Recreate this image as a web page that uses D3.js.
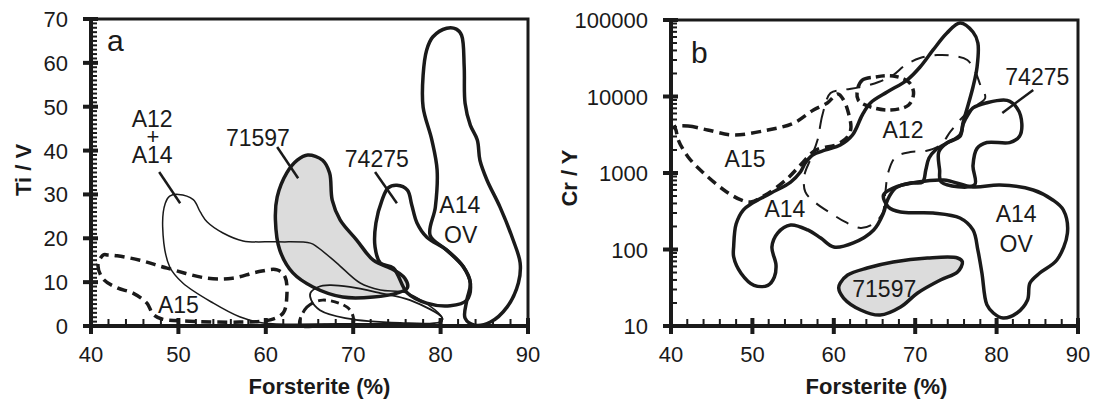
<!DOCTYPE html>
<html>
<head>
<meta charset="utf-8">
<script src="https://cdn.jsdelivr.net/npm/d3@7"></script>
<style>
  body { margin: 0; background: #fff; }
  text { font-family: "Liberation Sans", Arial, sans-serif; fill: #1a1a1a; }
</style>
</head>
<body>
<script>
// ---- données (Forsterite %, valeur) ----
const xTicks = [40, 50, 60, 70, 80, 90];
const yTicksA = [0, 10, 20, 30, 40, 50, 60, 70];
const yTicksB = [10, 100, 1000, 10000, 100000];

// panneau a : Ti / V
const a71597 = [[64.8,39.0],[66.5,37.8],[67.3,34.9],[67.6,28.7],[68.5,24.2],[70.4,19.6],[72.3,15.0],[74.6,12.8],[75.9,10.9],[76.2,8.7],[75.0,7.5],[72.3,6.6],[68.8,6.6],[65.4,8.9],[63.1,12.1],[61.6,17.3],[61.1,24.2],[61.3,29.4],[62.4,34.9],[63.6,37.8]];
const aA12A14 = [[50.0,30.0],[51.7,28.8],[52.5,26.0],[53.3,23.7],[55.1,21.2],[57.4,19.4],[61.3,19.2],[65.1,18.9],[65.9,18.0],[68.1,14.4],[70.8,9.8],[73.1,8.2],[76.2,7.5],[80.2,1.8],[79.9,0.5],[75.4,0.5],[68.5,0.5],[59.7,0.7],[57.0,2.1],[54.0,5.2],[50.5,9.8],[49.0,13.5],[48.2,22.6],[48.5,28.0],[49.0,29.6]];
const aOval = [[65.1,7.5],[66.0,8.9],[67.3,9.3],[69.6,8.9],[73.1,7.5],[76.5,5.9],[80.2,1.8],[79.9,0.9],[75.4,0.7],[69.1,1.8],[66.2,3.6],[65.2,5.9]];
const aA15 = [[41.4,16.2],[40.8,13.9],[41.4,10.7],[43.0,8.7],[44.8,7.5],[46.4,5.2],[47.1,2.7],[48.1,1.6],[51.3,1.1],[57.0,0.9],[60.5,1.4],[62.0,3.0],[62.4,6.6],[62.2,11.2],[61.3,12.8],[59.0,12.3],[56.2,10.9],[53.3,10.9],[48.7,13.2],[45.6,15.0],[43.0,16.0],[41.9,16.2]];
const aSmall = [[63.9,0.2],[64.7,4.3],[66.5,5.9],[69.3,4.3],[70.0,2.1],[69.9,0.2],[67.0,0.2]];
const a74275 = [[75.0,32.1],[76.2,31.0],[76.7,27.6],[77.3,23.5],[78.4,20.3],[80.7,17.3],[82.6,13.5],[83.4,9.8],[83.0,5.9],[81.1,4.6],[78.4,5.2],[76.2,7.5],[74.6,13.2],[73.1,14.4],[72.5,18.0],[72.6,23.5],[73.3,28.7],[74.0,31.5]];
const aA14OV = [[80.7,67.9],[81.8,67.7],[82.4,66.3],[82.7,59.1],[82.8,50.8],[83.4,45.8],[84.2,42.4],[84.5,37.8],[85.3,33.3],[86.8,27.1],[88.3,19.6],[89.1,14.4],[88.9,9.8],[87.6,4.3],[85.7,0.9],[83.9,0.2],[82.8,1.8],[83.0,5.9],[83.4,9.8],[82.6,13.5],[80.7,17.3],[78.8,20.7],[79.4,27.1],[79.6,35.6],[79.0,42.4],[78.0,49.9],[78.0,57.2],[78.4,62.9],[79.1,65.9]];

// panneau b : Cr / Y
const b71597 = [[60.8,36.5],[61.7,46.4],[64.1,57.3],[67.3,68.7],[71.5,77.4],[75.2,77.4],[75.8,68.7],[75.2,50.8],[73.1,39.9],[70.3,27.0],[68.2,17.7],[65.7,13.9],[63.3,16.2],[61.2,23.2],[60.6,31.4]];
const bA14OV = [[66.1,515],[66.7,360],[68.2,309],[72.2,300],[75.5,258],[77.1,180],[77.7,98],[78.2,49],[78.8,19],[79.6,14.8],[80.8,12.7],[82.5,14.8],[83.8,21.9],[84.1,36.5],[85.3,49.3],[87.4,73],[88.7,164],[88.2,328],[86.9,444],[84.5,600],[80.4,697],[77.1,656],[73.5,809],[70.3,762],[67.3,637]];
const bA14 = [[50.0,405],[48.9,330],[48.0,215],[47.7,110],[47.7,80],[48.6,49],[50.2,34],[51.9,34],[52.7,43.7],[52.9,62.7],[52.4,108],[53.1,164],[54.7,209],[56.8,180],[58.4,141],[60.0,108],[62.4,122],[64.9,180],[66.1,300],[66.6,444],[67.6,637],[69.4,740],[70.9,762],[71.3,1094],[71.7,1570],[72.5,2000],[73.9,2470],[75.5,3140],[75.9,4650],[76.5,7750],[77.1,13300],[77.6,24300],[77.7,50000],[77.1,69700],[75.5,91400],[73.9,67600],[72.2,40600],[70.6,24300],[69.0,16400],[66.6,11500],[64.5,8230],[63.5,5730],[62.3,3140],[60.8,2320],[59.0,2000],[57.4,1720],[56.5,1350],[55.9,1030],[54.7,762],[52.3,548]];
const b74275 = [[73.2,762],[73.0,1100],[72.9,1880],[73.9,2470],[75.5,3000],[75.9,4400],[76.5,5800],[77.1,7100],[78.8,8300],[81.3,8900],[82.5,7100],[83.1,4400],[82.8,3000],[81.6,2500],[78.8,2500],[77.6,2100],[77.1,1250],[77.3,700]];
const bA15 = [[40.4,3990],[42.1,4110],[44.5,3650],[47.7,3140],[51.9,3650],[55.1,4510],[57.5,6670],[59.2,8230],[60.5,10800],[61.2,9000],[61.8,6080],[62.1,3870],[61.7,2960],[60.2,2320],[57.8,2000],[55.9,1270],[54.1,809],[51.6,516],[49.8,418],[48.6,444],[46.5,600],[44.0,1000],[42.1,1620],[40.9,2700],[40.6,3650]];
const bA12 = [[59.6,11100],[58.6,5730],[58.0,2700],[57.2,1570],[56.4,942],[56.5,565],[57.8,405],[59.6,300],[61.4,229],[63.3,191],[64.8,215],[66.0,300],[66.3,515],[66.7,1030],[67.6,1620],[69.4,1880],[71.3,1940],[73.1,2320],[74.3,3440],[75.5,4930],[77.0,7080],[78.6,9550],[78.0,14100],[77.4,20900],[76.4,30000],[74.9,33800],[72.7,34800],[70.6,31800],[68.8,25800],[67.3,19100],[65.5,15500],[63.3,13300],[61.2,12200]];
const bSmall = [[62.9,12200],[63.5,16400],[65.1,18000],[67.3,18500],[69.2,15500],[69.8,11100],[69.2,7750],[67.0,6670],[64.5,7300],[63.0,9000]];

// étiquettes [texte, Fo, valeur, taille]
const labelsA = [["A12",47.0,45.4,23],["+",47.1,41.4,22],["A14",47.0,37.2,23],["71597",59.1,41.0,23],["74275",72.7,36.3,23],["A14",82.2,25.8,23],["OV",82.3,18.9,23],["A15",50.0,3.0,23]];
const leadersA = [[[47.8,35.1],[50.2,28.0]],[[61.3,40.8],[63.7,33.7]],[[72.5,35.1],[75.0,28.0]]];
const labelsB = [["A15",49.1,1200,23],["A14",54.0,266,23],["A12",68.5,2870,23],["74275",85.0,14100,23],["A14",82.4,229,23],["OV",82.4,93,23],["71597",66.2,23.9,23]];
const leadersB = [[[84.5,12200],[80.7,6100]]];

// ---- mise en page ----
const ink = '#1a1a1a';
const svg = d3.select('body').append('svg').attr('width', 1097).attr('height', 403);

const xa = d3.scaleLinear().domain([40, 90]).range([91, 528]);
const ya = d3.scaleLinear().domain([0, 70]).range([326, 19]);
const xb = d3.scaleLinear().domain([40, 90]).range([671, 1078]);
const yb = d3.scaleLog().domain([10, 100000]).range([326, 20]);

function blob(g, pts, x, y, opt) {
  const line = d3.line().x(d => x(d[0])).y(d => y(d[1])).curve(d3.curveCatmullRomClosed.alpha(0.5));
  g.append('path')
    .attr('d', line(pts))
    .attr('fill', opt.fill || 'none')
    .attr('stroke', ink)
    .attr('stroke-width', opt.w)
    .attr('stroke-dasharray', opt.dash || null)
    .attr('stroke-linejoin', 'round');
}

function labels(g, list, x, y) {
  g.selectAll(null).data(list).enter().append('text')
    .attr('x', d => x(d[1])).attr('y', d => y(d[2]))
    .attr('text-anchor', 'middle').attr('font-size', d => d[3])
    .text(d => d[0]);
}

function leaders(g, list, x, y) {
  g.selectAll(null).data(list).enter().append('line')
    .attr('x1', d => x(d[0][0])).attr('y1', d => y(d[0][1]))
    .attr('x2', d => x(d[1][0])).attr('y2', d => y(d[1][1]))
    .attr('stroke', ink).attr('stroke-width', 2.5);
}

function frame(g, x, y, yMajor, yMinor, titleShift) {
  const x0 = x.range()[0], x1 = x.range()[1];
  const y0 = y.range()[0], y1 = y.range()[1];
  // cadre haut / droite
  g.append('path').attr('d', `M${x0},${y1}H${x1}V${y0}`)
    .attr('fill', 'none').attr('stroke', ink).attr('stroke-width', 3);
  // axes gauche / bas
  g.append('path').attr('d', `M${x0},${y1 - 1.5}V${y0}H${x1 + 1.5}`)
    .attr('fill', 'none').attr('stroke', ink).attr('stroke-width', 4);
  // petites graduations
  g.selectAll(null).data(yMinor).enter().append('line')
    .attr('x1', x0).attr('x2', x0 + 6)
    .attr('y1', d => y(d)).attr('y2', d => y(d))
    .attr('stroke', ink).attr('stroke-width', 2);
  g.selectAll(null).data(d3.range(42, 90, 2)).enter().append('line')
    .attr('x1', d => x(d)).attr('x2', d => x(d))
    .attr('y1', y0).attr('y2', y0 - 7)
    .attr('stroke', ink).attr('stroke-width', 2);
  // grandes graduations
  g.selectAll(null).data(yMajor).enter().append('line')
    .attr('x1', x0 - 8).attr('x2', x0 + 7)
    .attr('y1', d => y(d)).attr('y2', d => y(d))
    .attr('stroke', ink).attr('stroke-width', 4);
  g.selectAll(null).data(xTicks).enter().append('line')
    .attr('x1', d => x(d)).attr('x2', d => x(d))
    .attr('y1', y0 - 8).attr('y2', y0 + 8)
    .attr('stroke', ink).attr('stroke-width', 4);
  // libellés
  g.selectAll(null).data(yMajor).enter().append('text')
    .attr('x', x0 - 23).attr('y', d => y(d) + 8)
    .attr('text-anchor', 'end').attr('font-size', 22)
    .text(d => d);
  g.selectAll(null).data(xTicks).enter().append('text')
    .attr('x', d => x(d)).attr('y', 362)
    .attr('text-anchor', 'middle').attr('font-size', 22)
    .text(d => d);
  g.append('text')
    .attr('x', (x0 + x1) / 2 + titleShift).attr('y', 394)
    .attr('text-anchor', 'middle').attr('font-size', 22).attr('font-weight', 'bold')
    .text('Forsterite (%)');
}

// ---- panneau a ----
const ga = svg.append('g');
blob(ga, a71597, xa, ya, { w: 3.5, fill: '#dcdcdc' });
blob(ga, aA12A14, xa, ya, { w: 1.5 });
blob(ga, aOval, xa, ya, { w: 1.8 });
blob(ga, aA15, xa, ya, { w: 3.5, dash: '10 6' });
blob(ga, aSmall, xa, ya, { w: 3, dash: '8 5' });
blob(ga, a74275, xa, ya, { w: 3.5 });
blob(ga, aA14OV, xa, ya, { w: 3.5 });
leaders(ga, leadersA, xa, ya);
labels(ga, labelsA, xa, ya);
frame(ga, xa, ya, yTicksA, d3.range(0, 70, 1), 10);
ga.append('text').attr('x', 107).attr('y', 51).attr('font-size', 30).text('a');
ga.append('text')
  .attr('transform', 'translate(31,170) rotate(-90)')
  .attr('text-anchor', 'middle').attr('font-size', 22).attr('font-weight', 'bold')
  .text('Ti / V');

// ---- panneau b ----
const gb = svg.append('g');
const minorB = [];
[10, 100, 1000, 10000].forEach(dec => d3.range(2, 10).forEach(k => minorB.push(dec * k)));
blob(gb, b71597, xb, yb, { w: 3.5, fill: '#dcdcdc' });
blob(gb, bA14OV, xb, yb, { w: 3.5 });
blob(gb, bA14, xb, yb, { w: 3.5 });
blob(gb, b74275, xb, yb, { w: 3.5 });
blob(gb, bA15, xb, yb, { w: 3.5, dash: '10 6' });
blob(gb, bA12, xb, yb, { w: 2, dash: '14 10' });
blob(gb, bSmall, xb, yb, { w: 3.5, dash: '9 5' });
leaders(gb, leadersB, xb, yb);
labels(gb, labelsB, xb, yb);
frame(gb, xb, yb, yTicksB, minorB, 2);
gb.append('text').attr('x', 691).attr('y', 63).attr('font-size', 30).text('b');
gb.append('text')
  .attr('transform', 'translate(577,178) rotate(-90)')
  .attr('text-anchor', 'middle').attr('font-size', 22).attr('font-weight', 'bold')
  .text('Cr / Y');
</script>
</body>
</html>
